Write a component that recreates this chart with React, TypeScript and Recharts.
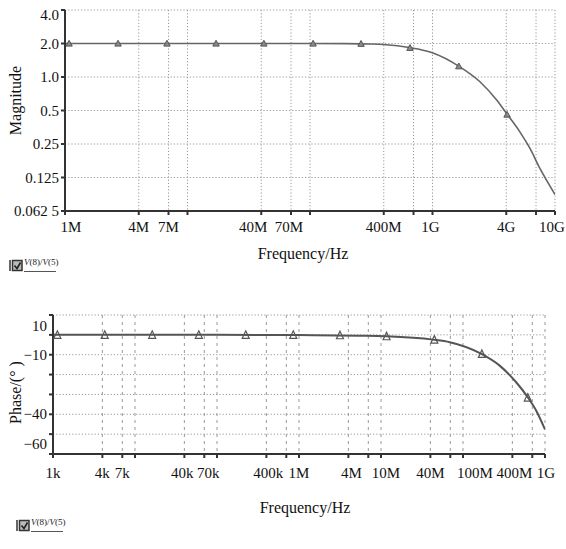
import { ComposedChart, Line, Scatter, XAxis, YAxis, CartesianGrid } from 'recharts';

// magnitude curve
const magFreq = [1e6, 1e7, 1e8, 2e8, 3.1e8, 3.95e8, 6.67e8, 9.84e8, 1.66e9, 2.44e9, 3.34e9, 4.08e9, 5.18e9, 6.25e9, 7.55e9, 1e10];
const magValue = [2.0, 2.0, 2.0, 1.995, 1.98, 1.96, 1.83, 1.66, 1.24, 0.906, 0.62, 0.46, 0.32, 0.228, 0.15, 0.088];
// triangle markers on the magnitude trace
const magMarkFreq = [1.08e6, 2.71e6, 6.8e6, 1.71e7, 4.2e7, 1.06e8, 2.61e8, 6.55e8, 1.64e9, 4.06e9];
const magMarkValue = [2.0, 2.0, 2.0, 2.0, 2.0, 2.0, 1.99, 1.83, 1.25, 0.46];

const magXTicks = [1e6, 4e6, 7e6, 1e7, 4e7, 7e7, 1e8, 4e8, 7e8, 1e9, 4e9, 7e9, 1e10];
const magXLabels = ['1M', '4M', '7M', '', '40M', '70M', '', '400M', '', '1G', '4G', '', '10G'];
const magYTicks = [0.0625, 0.125, 0.25, 0.5, 1, 2, 4];
const magYLabels = ['0.062 5', '0.125', '0.25', '0.5', '1.0', '2.0', '4.0'];

// phase curve
const phaseFreq = [1e3, 1e5, 1e6, 5.5e6, 1.16e7, 4.3e7, 6.9e7, 1.68e8, 2.8e8, 4.48e8, 6.21e8, 7.85e8, 1e9];
const phaseValue = [0, 0, -0.1, -0.4, -0.7, -2.4, -3.7, -9.6, -15.5, -24, -31.6, -38.3, -47.6];
const phaseMarkFreq = [1.13e3, 4.27e3, 1.62e4, 6.0e4, 2.24e5, 8.51e5, 3.16e6, 1.17e7, 4.47e7, 1.7e8, 6.17e8];
const phaseMarkValue = [0, 0, 0, 0, 0, 0, -0.2, -0.7, -2.4, -9.6, -31.6];

const phaseXTicks = [1e3, 4e3, 7e3, 1e4, 4e4, 7e4, 1e5, 4e5, 7e5, 1e6, 4e6, 7e6, 1e7, 4e7, 7e7, 1e8, 4e8, 7e8, 1e9];
const phaseXLabels = ['1k', '4k', '7k', '', '40k', '70k', '', '400k', '', '1M', '4M', '', '10M', '40M', '', '100M', '400M', '', '1G'];
const phaseYTicks = [-60, -50, -40, -30, -20, -10, 0, 10];
const phaseYLabels = ['\u221260', '', '\u221240', '', '', '\u221210', '', '10'];

const magData = magFreq.map((f, i) => ({ f, v: magValue[i] }));
const magMarks = magMarkFreq.map((f, i) => ({ f, v: magMarkValue[i] }));
const phaseData = phaseFreq.map((f, i) => ({ f, v: phaseValue[i] }));
const phaseMarks = phaseMarkFreq.map((f, i) => ({ f, v: phaseMarkValue[i] }));

const FONT = '"Liberation Serif", "Times New Roman", serif';
const AXIS = '#333';

const XTick = ({ x, y, payload, ticks, labels, shift, dy }: any) => {
  const i = ticks.indexOf(payload.value);
  const label = labels[i] || '';
  const sx = (shift && shift[label]) || 0;
  return (
    <text x={x + sx} y={y + dy} textAnchor="middle" fontFamily={FONT} fontSize={15} fill="#111">
      {label}
    </text>
  );
};

const YTick = ({ x, y, payload, ticks, labels, shift }: any) => {
  const i = ticks.indexOf(payload.value);
  const label = labels[i] || '';
  const sy = (shift && shift[label]) || 0;
  return (
    <text x={x} y={y + sy} textAnchor="end" dominantBaseline="central" fontFamily={FONT} fontSize={15} fill="#111">
      {label}
    </text>
  );
};

const FilledTri = (p: any) => (
  <path d={`M${p.cx},${p.cy - 3.2} L${p.cx + 3.2},${p.cy + 2.6} L${p.cx - 3.2},${p.cy + 2.6} Z`} fill="#8a8a8a" stroke="#555" strokeWidth={1} />
);

const HollowTri = (p: any) => (
  <path d={`M${p.cx},${p.cy - 4} L${p.cx + 3.5},${p.cy + 3.5} L${p.cx - 3.5},${p.cy + 3.5} Z`} fill="none" stroke="#555" strokeWidth={1.2} />
);

const LegendMark = ({ left, top }: { left: number; top: number }) => (
  <div style={{ position: 'absolute', left, top, display: 'flex', alignItems: 'flex-end' }}>
    <svg width={14} height={13}>
      <line x1={1} y1={1} x2={1} y2={12} stroke="#333" strokeWidth={1.5} />
      <rect x={3.5} y={1.5} width={9.5} height={10} fill="#bbb" stroke="#333" strokeWidth={1.5} />
      <path d="M5.5,6.5 L8,9.5 L11.5,3.5" fill="none" stroke="#222" strokeWidth={1.6} />
    </svg>
    <div style={{ fontFamily: FONT, fontSize: 9, lineHeight: '9px', color: '#222', borderBottom: '1.5px solid #555', paddingBottom: 4, marginLeft: 1, width: 32 }}>
      <i>V</i>(8)/<i>V</i>(5)
    </div>
  </div>
);

const App = () => (
  <div style={{ position: 'absolute', left: 0, top: 0, width: 566, height: 549, background: '#fff' }}>
    <div style={{ position: 'absolute', left: 0, top: 0 }}>
      <ComposedChart width={566} height={266} data={magData} margin={{ top: 10, right: 11, bottom: 0, left: 0 }}>
        <CartesianGrid stroke="#999" strokeDasharray="1.2 2" />
        <XAxis
          dataKey="f"
          type="number"
          scale="log"
          domain={[1e6, 1e10]}
          allowDataOverflow
          ticks={magXTicks}
          interval={0}
          height={55}
          stroke={AXIS}
          strokeWidth={2}
          tickSize={4}
          tick={<XTick ticks={magXTicks} labels={magXLabels} shift={{ '1M': 6, '40M': -8, '70M': -2, '1G': -2, '10G': -3 }} dy={15} />}
          label={{
            content: (p: any) => (
              <text x={p.viewBox.x + p.viewBox.width / 2 - 7} y={p.viewBox.y + 42} textAnchor="middle" dominantBaseline="central" fontFamily={FONT} fontSize={16} fill="#111">
                Frequency/Hz
              </text>
            ),
          }}
        />
        <YAxis
          type="number"
          scale="log"
          domain={[0.0625, 4]}
          allowDataOverflow
          ticks={magYTicks}
          interval={0}
          width={65}
          stroke={AXIS}
          strokeWidth={2}
          tickSize={4}
          tick={<YTick ticks={magYTicks} labels={magYLabels} shift={{ '4.0': 5 }} />}
          label={{
            content: (p: any) => {
              const cx = p.viewBox.x + 15;
              const cy = p.viewBox.y + p.viewBox.height / 2 - 10;
              return (
                <text x={cx} y={cy} transform={`rotate(-90 ${cx} ${cy})`} textAnchor="middle" dominantBaseline="central" fontFamily={FONT} fontSize={16} fill="#111">
                  Magnitude
                </text>
              );
            },
          }}
        />
        <Line type="monotone" dataKey="v" stroke="#666" strokeWidth={1.6} dot={false} isAnimationActive={false} />
        <Scatter data={magMarks} dataKey="v" shape={<FilledTri />} isAnimationActive={false} />
      </ComposedChart>
    </div>
    <LegendMark left={9} top={258} />

    <div style={{ position: 'absolute', left: 0, top: 300 }}>
      <ComposedChart width={566} height={219} data={phaseData} margin={{ top: 15, right: 21, bottom: 0, left: 0 }}>
        <CartesianGrid stroke="#999" strokeDasharray="1.2 2" vertical={false} />
        <CartesianGrid stroke="#999" strokeDasharray="3 4" horizontal={false} />
        <XAxis
          dataKey="f"
          type="number"
          scale="log"
          domain={[1e3, 1e9]}
          allowDataOverflow
          ticks={phaseXTicks}
          interval={0}
          height={65}
          stroke={AXIS}
          strokeWidth={2}
          tickSize={4}
          tick={
            <XTick
              ticks={phaseXTicks}
              labels={phaseXLabels}
              shift={{ '40k': -2, '70k': 4, '400k': 2, '4M': 3, '10M': 5, '100M': 12, '400M': 2, '1G': 1 }}
              dy={18}
            />
          }
          label={{
            content: (p: any) => (
              <text x={p.viewBox.x + p.viewBox.width / 2 + 6} y={p.viewBox.y + 53} textAnchor="middle" dominantBaseline="central" fontFamily={FONT} fontSize={16} fill="#111">
                Frequency/Hz
              </text>
            ),
          }}
        />
        <YAxis
          type="number"
          domain={[-60, 10]}
          allowDataOverflow
          ticks={phaseYTicks}
          interval={0}
          width={53}
          stroke={AXIS}
          strokeWidth={2}
          tickSize={4}
          tick={<YTick ticks={phaseYTicks} labels={phaseYLabels} shift={{ '10': 11, '\u221260': -10 }} />}
          label={{
            content: (p: any) => {
              const cx = p.viewBox.x + 15;
              const cy = p.viewBox.y + p.viewBox.height / 2 + 8;
              return (
                <text x={cx} y={cy} transform={`rotate(-90 ${cx} ${cy})`} textAnchor="middle" dominantBaseline="central" fontFamily={FONT} fontSize={16} fill="#111">
                  Phase/(° )
                </text>
              );
            },
          }}
        />
        <Line type="monotone" dataKey="v" stroke="#555" strokeWidth={2} dot={false} isAnimationActive={false} />
        <Scatter data={phaseMarks} dataKey="v" shape={<HollowTri />} isAnimationActive={false} />
      </ComposedChart>
    </div>
    <LegendMark left={16} top={518} />
  </div>
);

export default App;
